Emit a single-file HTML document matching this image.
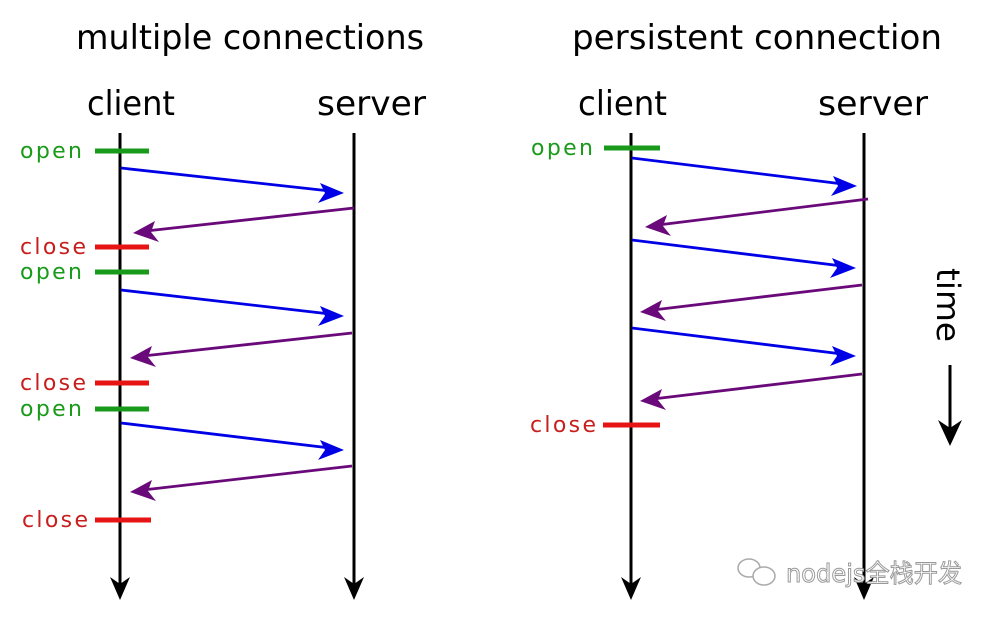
<!DOCTYPE html>
<html><head><meta charset="utf-8"><style>
html,body{margin:0;padding:0;background:#fff;}
svg{display:block;}
text{font-family:"DejaVu Sans","Liberation Sans",sans-serif;}
</style></head><body>
<svg width="996" height="620" viewBox="0 0 996 620" xmlns="http://www.w3.org/2000/svg">
<g font-size="34" fill="#000">
<text x="76" y="49" textLength="348" lengthAdjust="spacingAndGlyphs">multiple connections</text>
<text x="572" y="49" textLength="370" lengthAdjust="spacingAndGlyphs">persistent connection</text>
<text x="87" y="115" textLength="88" lengthAdjust="spacingAndGlyphs">client</text>
<text x="317" y="115" textLength="109" lengthAdjust="spacingAndGlyphs">server</text>
<text x="578" y="115" textLength="89" lengthAdjust="spacingAndGlyphs">client</text>
<text x="818" y="115" textLength="110" lengthAdjust="spacingAndGlyphs">server</text>
</g>
<g stroke="#000" stroke-width="3">
<line x1="120" y1="133" x2="120" y2="585"/>
<line x1="354" y1="133" x2="354" y2="585"/>
<line x1="631" y1="133" x2="631" y2="585"/>
<line x1="864" y1="133" x2="864" y2="585"/>
<line x1="950" y1="365" x2="950" y2="428"/>
</g>
<g fill="#000">
<path d="M110,577 L120,600 L130,577 L120,584 Z"/>
<path d="M344,577 L354,600 L364,577 L354,584 Z"/>
<path d="M621,577 L631,600 L641,577 L631,584 Z"/>
<path d="M854,577 L864,600 L874,577 L864,584 Z"/>
<path d="M938,420 L950,446 L962,420 L950,428 Z"/>
</g>
<text transform="translate(937,268) rotate(90)" font-size="32" fill="#000" textLength="74" lengthAdjust="spacingAndGlyphs">time</text>
<g stroke-width="5">
<line x1="95" y1="151" x2="149" y2="151" stroke="#1a9a1a"/>
<line x1="95" y1="247" x2="149" y2="247" stroke="#e61414"/>
<line x1="95" y1="272" x2="149" y2="272" stroke="#1a9a1a"/>
<line x1="95" y1="383" x2="149" y2="383" stroke="#e61414"/>
<line x1="95" y1="409" x2="149" y2="409" stroke="#1a9a1a"/>
<line x1="95" y1="520" x2="151" y2="520" stroke="#e61414"/>
<line x1="604" y1="148" x2="660" y2="148" stroke="#1a9a1a"/>
<line x1="603" y1="425" x2="660" y2="425" stroke="#e61414"/>
</g>
<g font-size="22">
<text x="20" y="158" fill="#1a9a1a" textLength="62" lengthAdjust="spacing">open</text>
<text x="20" y="254" fill="#c81e1e" textLength="66" lengthAdjust="spacing">close</text>
<text x="20" y="279" fill="#1a9a1a" textLength="62" lengthAdjust="spacing">open</text>
<text x="20" y="390" fill="#c81e1e" textLength="66" lengthAdjust="spacing">close</text>
<text x="20" y="416" fill="#1a9a1a" textLength="62" lengthAdjust="spacing">open</text>
<text x="22" y="527" fill="#c81e1e" textLength="66" lengthAdjust="spacing">close</text>
<text x="531" y="155" fill="#1a9a1a" textLength="62" lengthAdjust="spacing">open</text>
<text x="530" y="432" fill="#c81e1e" textLength="66" lengthAdjust="spacing">close</text>
</g>
<g stroke-width="2.8" fill="none">
<line x1="121" y1="168" x2="330" y2="191" stroke="#0000e6"/>
<line x1="354" y1="208" x2="146" y2="231" stroke="#6a0a7a"/>
<line x1="121" y1="290" x2="330" y2="314" stroke="#0000e6"/>
<line x1="352" y1="333" x2="143" y2="356" stroke="#6a0a7a"/>
<line x1="121" y1="423" x2="330" y2="448" stroke="#0000e6"/>
<line x1="352" y1="466" x2="143" y2="490" stroke="#6a0a7a"/>
<line x1="632" y1="158" x2="843" y2="184" stroke="#0000e6"/>
<line x1="868" y1="199" x2="658" y2="225" stroke="#6a0a7a"/>
<line x1="632" y1="240" x2="842" y2="266" stroke="#0000e6"/>
<line x1="862" y1="285" x2="653" y2="310" stroke="#6a0a7a"/>
<line x1="632" y1="328" x2="842" y2="354" stroke="#0000e6"/>
<line x1="862" y1="374" x2="653" y2="399" stroke="#6a0a7a"/>
</g>
<g>
<path d="M344,193 L320,183 L325,193 L318,203 Z" fill="#0000e6"/>
<path d="M344,316 L320,306 L325,316 L318,326 Z" fill="#0000e6"/>
<path d="M344,450 L320,440 L325,450 L318,460 Z" fill="#0000e6"/>
<path d="M857,186 L833,176 L838,186 L831,196 Z" fill="#0000e6"/>
<path d="M856,268 L832,258 L837,268 L830,278 Z" fill="#0000e6"/>
<path d="M856,356 L832,346 L837,356 L830,366 Z" fill="#0000e6"/>
<path d="M133,233 L155,221 L151,232 L159,242 Z" fill="#6a0a7a"/>
<path d="M130,358 L152,346 L148,357 L156,367 Z" fill="#6a0a7a"/>
<path d="M130,492 L152,480 L148,491 L156,501 Z" fill="#6a0a7a"/>
<path d="M645,227 L667,215 L663,226 L671,236 Z" fill="#6a0a7a"/>
<path d="M640,312 L662,300 L658,311 L666,321 Z" fill="#6a0a7a"/>
<path d="M640,401 L662,389 L658,400 L666,410 Z" fill="#6a0a7a"/>
</g>
<g fill="none" stroke="#aaa" stroke-width="1.5">
<ellipse cx="749" cy="568" rx="11" ry="9"/>
<ellipse cx="764" cy="576" rx="11" ry="9" fill="#fff"/>
</g>
<text x="786" y="582" font-size="25" fill="#fff" stroke="#999" stroke-width="1" font-family="'Liberation Sans','Noto Sans CJK SC',sans-serif" textLength="176" lengthAdjust="spacingAndGlyphs">nodejs全栈开发</text>
</svg>
</body></html>
